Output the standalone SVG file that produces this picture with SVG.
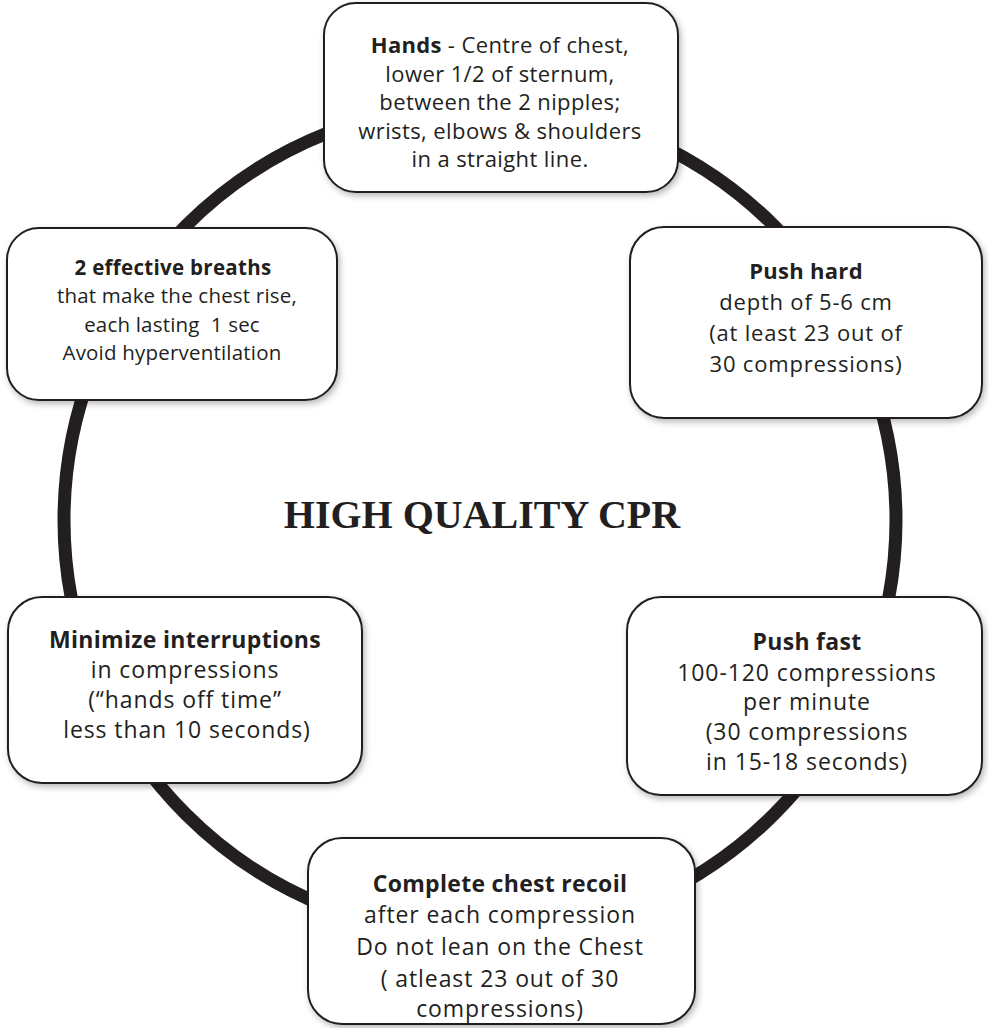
<svg xmlns="http://www.w3.org/2000/svg" width="989" height="1028" viewBox="0 0 989 1028">
  <defs>
    <filter id="shadow" x="-10%" y="-10%" width="125%" height="130%">
      <feDropShadow dx="2" dy="3" stdDeviation="3" flood-color="#000" flood-opacity="0.28"/>
    </filter>
    <style>
      .ring { fill: none; stroke: #231f20; stroke-width: 13; }
      .box { fill: #fff; stroke: #231f20; stroke-width: 2; filter: url(#shadow); }
      .t { font-family: "Open Sans", "Noto Sans", sans-serif; fill: #231f20; text-anchor: middle; }
      .s1 { font-size: 22px; letter-spacing: 0.4px; }
      .s2 { font-size: 22px; letter-spacing: 0.8px; }
      .s3 { font-size: 23px; letter-spacing: 0.9px; }
      .s4 { font-size: 20.5px; letter-spacing: 0.2px; }
      .b { font-weight: 700; letter-spacing: 0.3px; }
      .title { font-family: "Liberation Serif", "Times New Roman", serif; font-size: 40px; font-weight: 700; fill: #231f20; text-anchor: middle; }
    </style>
  </defs>

  <rect width="989" height="1028" fill="#fff"/>

  <!-- ring linking all steps -->
  <g id="connectors">
    <circle class="ring" cx="480" cy="520" r="416"/>
  </g>

  <g id="title">
    <text class="title" x="482" y="528">HIGH QUALITY CPR</text>
  </g>

  <g id="node-hands">
    <rect class="box" x="324" y="3" width="354" height="189" rx="32"/>
    <text class="t s1" x="500" y="53"><tspan class="b">Hands</tspan> - Centre of chest,</text>
    <text class="t s1" x="500" y="82">lower 1/2 of sternum,</text>
    <text class="t s1" x="500" y="110">between the 2 nipples;</text>
    <text class="t s1" x="500" y="139">wrists, elbows &amp; shoulders</text>
    <text class="t s1" x="500" y="167">in a straight line.</text>
  </g>

  <g id="node-push-hard">
    <rect class="box" x="630" y="227" width="352" height="191" rx="34"/>
    <text class="t s2" x="806" y="279"><tspan class="b">Push hard</tspan></text>
    <text class="t s2" x="806" y="310">depth of 5-6 cm</text>
    <text class="t s2" x="806" y="341">(at least 23 out of</text>
    <text class="t s2" x="806" y="372">30 compressions)</text>
  </g>

  <g id="node-breaths">
    <rect class="box" x="7" y="228" width="330" height="172" rx="32"/>
    <text class="t s4" x="173" y="275"><tspan class="b">2 effective breaths</tspan></text>
    <text class="t s4" x="177" y="303">that make the chest rise,</text>
    <text class="t s4" x="172" y="332" xml:space="preserve">each lasting  1 sec</text>
    <text class="t s4" x="172" y="360">Avoid hyperventilation</text>
  </g>

  <g id="node-interruptions">
    <rect class="box" x="8" y="597" width="354" height="186" rx="34"/>
    <text class="t s3" x="185" y="648"><tspan class="b">Minimize interruptions</tspan></text>
    <text class="t s3" x="185" y="678">in compressions</text>
    <text class="t s3" x="185" y="708">(“hands off time”</text>
    <text class="t s3" x="187" y="738">less than 10 seconds)</text>
  </g>

  <g id="node-push-fast">
    <rect class="box" x="627" y="597" width="355" height="198" rx="34"/>
    <text class="t s3" x="807" y="650"><tspan class="b">Push fast</tspan></text>
    <text class="t s3" x="807" y="681">100-120 compressions</text>
    <text class="t s3" x="807" y="710">per minute</text>
    <text class="t s3" x="807" y="740">(30 compressions</text>
    <text class="t s3" x="807" y="770">in 15-18 seconds)</text>
  </g>

  <g id="node-recoil">
    <rect class="box" x="308" y="838" width="387" height="186" rx="34"/>
    <text class="t s3" x="500" y="892"><tspan class="b">Complete chest recoil</tspan></text>
    <text class="t s3" x="500" y="923">after each compression</text>
    <text class="t s3" x="500" y="955">Do not lean on the Chest</text>
    <text class="t s3" x="500" y="987">( atleast 23 out of 30</text>
    <text class="t s3" x="500" y="1017">compressions)</text>
  </g>
</svg>
